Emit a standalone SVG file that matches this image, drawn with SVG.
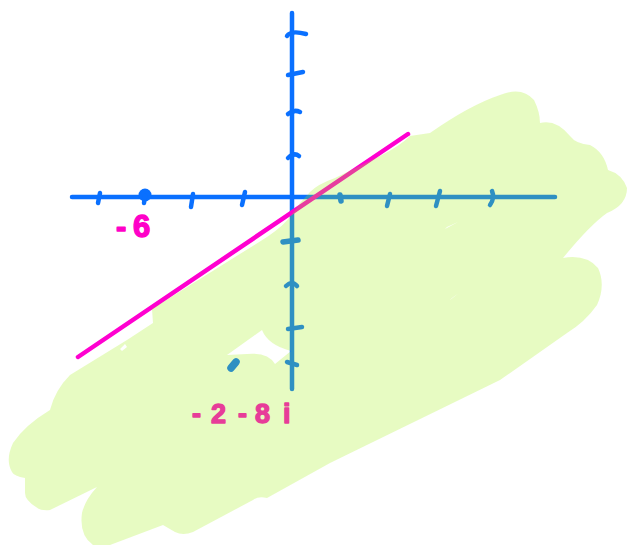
<svg xmlns="http://www.w3.org/2000/svg" width="627" height="546" viewBox="0 0 627 546">
<style>
.ax{fill:none;stroke:#0a70ff;stroke-width:4.5;stroke-linecap:round;stroke-linejoin:round}
.tk{fill:none;stroke:#0a70ff;stroke-width:4.5;stroke-linecap:round;stroke-linejoin:round}
.ln{fill:none;stroke:#ff00d0;stroke-width:4.5;stroke-linecap:round}
.lbl{font-family:"Liberation Sans",Arial,sans-serif;font-weight:bold;font-size:27px;fill:#ff00c8;stroke:#ff00c8;stroke-width:1.4;stroke-linejoin:round}
</style>
<rect width="627" height="546" fill="#ffffff"/>
<g id="axes">
  <path class="ax" d="M72,197 L555,197"/>
  <path class="ax" d="M292,13 L292,389"/>
</g>
<g id="x-ticks">
  <path class="tk" d="M100,193 L98,203"/>
  <circle cx="145" cy="195" r="6.5" fill="#0a70ff"/>
  <path class="tk" d="M145,196 L144,203"/>
  <path class="tk" d="M193,194 L191,207"/>
  <path class="tk" d="M245,192 L242,205"/>
  <path class="tk" d="M340,195 L341,201" style="stroke-width:5.5"/>
  <path class="tk" d="M390,194 L387,206"/>
  <path class="tk" d="M440,191 L436,206"/>
  <path class="tk" d="M492,191 Q495,198 490,205"/>
</g>
<g id="y-ticks">
  <path class="tk" d="M287,36 Q291,30 306,34"/>
  <path class="tk" d="M288,75 L303,72"/>
  <path class="tk" d="M288,114 Q294,109 300,112"/>
  <path class="tk" d="M288,158 Q294,152 299,156"/>
  <path class="tk" d="M283,242 L298,240" style="stroke-width:5.5"/>
  <path class="tk" d="M286,286 Q292,280 297,286"/>
  <path class="tk" d="M288,329 L302,327"/>
  <path class="tk" d="M287,362 L297,365"/>
</g>
<g id="line">
  <path class="ln" d="M78,357 L408,134"/>
</g>
<g id="point">
  <path d="M231,368 L236,362" fill="none" stroke="#0a70ff" stroke-width="7.5" stroke-linecap="round"/>
</g>
<g id="labels">
  <text class="lbl" style="font-size:31px"><tspan x="116" y="237">-</tspan><tspan x="133" y="237">6</tspan></text>
  <text class="lbl" style="font-size:27px"><tspan x="192" y="423">-</tspan><tspan x="211" y="423">2</tspan><tspan x="238" y="423">-</tspan><tspan x="255" y="423">8</tspan><tspan x="283" y="423">i</tspan></text>
</g>
<g id="shading" opacity="0.25">
  <path fill="#a0ef0b" fill-rule="evenodd" d="M152,309 L267,237 Q285,225 292,214 Q300,202 310,192 Q318,184 335,178 L380,156 Q400,146 410,136 L430,133 Q470,105 500,95 Q522,86 534,100 Q540,112 540,123 Q556,119 570,136 Q576,144 590,145 Q604,152 608,170 Q622,174 627,188 Q627,205 607,213 Q590,225 563,258 Q586,254 598,268 Q606,285 597,305 Q585,322 567,333 L500,380 L330,463 L267,498 Q258,496 253,500 L193,532 Q183,536 175,532 L163,525 L110,545 L93,545 Q79,535 82,513 Q85,500 97,487 L50,510 Q40,511 36,507 Q25,500 25,493 L25,478 Q14,476 12,472 Q5,460 13,443 Q25,425 50,410 Q55,390 70,375 L127,340 L153,323 Z
  M227,355 L262,330 Q268,345 291,351 L275,364 Q268,352 247,354 Z
  M120,349 L125,344 L127,347 L122,351 Z
  M445,229 L458,222 L447,227 Z
  M450,300 L459,293 L452,298 Z"/>
</g>
</svg>
